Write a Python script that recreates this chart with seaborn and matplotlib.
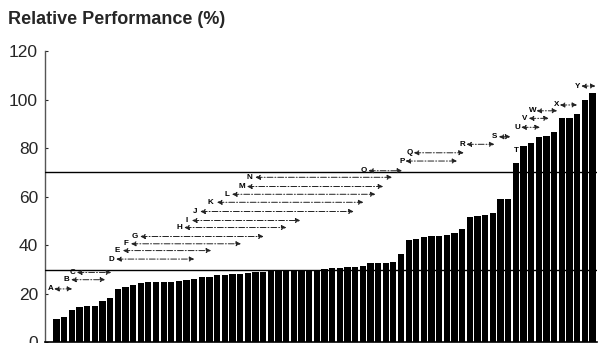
import matplotlib
matplotlib.use("Agg")
import matplotlib.pyplot as plt
import seaborn as sns
import numpy as np
import pandas as pd

# ---- data ----
values = [9.7, 10.4, 13.5, 14.7, 15.1, 15.1, 17.1, 18.1, 22.1, 22.6,
          23.8, 24.4, 24.7, 24.8, 24.8, 24.9, 25.3, 25.8, 26.2, 26.9,
          27.0, 27.7, 27.7, 28.1, 28.2, 28.5, 28.9, 28.9, 29.6, 29.8,
          30.0, 30.0, 30.0, 30.0, 30.0, 30.1, 30.6, 30.6, 31.0, 31.1,
          31.4, 32.6, 32.6, 32.6, 33.0, 36.5, 42.2, 42.5, 43.6, 43.7,
          43.7, 44.3, 45.0, 46.7, 51.8, 52.1, 52.5, 53.3, 59.0, 59.0,
          74.0, 80.8, 82.0, 84.5, 84.9, 86.7, 92.3, 92.6, 94.2, 99.7,
          102.6]
ref_lines = [30, 70]
yticks = [0, 20, 40, 60, 80, 100, 120]

letters = ["A", "B", "C", "D", "E", "F", "G", "H", "I", "J", "K", "L", "M",
           "N", "O", "P", "Q", "R", "S", "T", "U", "V", "W", "X", "Y"]
label_x = [-0.82, 1.23, 2.14, 7.11, 7.97, 9.11, 10.16, 16.08, 17.05, 18.13,
           20.09, 22.3, 24.24, 25.23, 40.13, 45.15, 46.14, 52.99, 57.2, 60.0,
           60.18, 61.18, 62.22, 65.28, 68.1]
label_y = [22.0, 25.8, 28.8, 34.3, 37.8, 40.6, 43.6, 47.3, 50.2, 53.9,
           57.7, 61.0, 64.2, 68.0, 70.7, 74.7, 78.1, 81.6, 84.7, 79.0,
           88.6, 92.3, 95.4, 97.8, 105.6]
arrow_start = [-0.3, 1.92, 2.67, 7.8, 8.68, 9.73, 10.94, 16.69, 17.7, 18.78,
               20.97, 22.93, 24.89, 25.97, 40.74, 45.58, 46.67, 53.55, 57.78, None,
               60.7, 61.7, 62.7, 65.75, 68.55]
arrow_end = [2.05, 6.37, 7.15, 18.0, 20.2, 24.1, 27.06, 30.03, 31.86, 38.82,
             40.09, 41.66, 42.67, 43.84, 45.15, 52.34, 53.2, 57.2, 59.3, None,
             63.14, 64.3, 65.4, 68.0, 70.4]

df = pd.DataFrame({"idx": np.arange(len(values)), "val": values})

sns.set_style("white")
plt.rcParams["font.family"] = ["Liberation Sans", "DejaVu Sans"]

fig = plt.figure(figsize=(6.0, 3.43), dpi=100)
ax = fig.add_axes([0.075, 0.002, 0.92, 0.849])

sns.barplot(data=df, x="idx", y="val", color="black", saturation=1,
            width=0.82, ax=ax, linewidth=0, edgecolor="none")

for v in ref_lines:
    ax.axhline(v, color="black", lw=1.0, zorder=3)

for i, L in enumerate(letters):
    ax.text(label_x[i], label_y[i], L, fontsize=5.8, fontweight="bold",
            ha="center", va="center", color="black", zorder=5)
    if arrow_start[i] is not None:
        ax.annotate("", xy=(arrow_end[i], label_y[i]), xytext=(arrow_start[i], label_y[i]),
                    arrowprops=dict(arrowstyle="<|-|>", color="#222222", lw=0.7,
                                    linestyle=(0, (6, 2, 1, 2)), mutation_scale=7,
                                    shrinkA=0, shrinkB=0), zorder=5)

ax.set_xlim(-1.5, 70.6)
ax.set_ylim(0, 120)
ax.set_yticks(yticks)
ax.set_yticklabels([str(t) for t in yticks], fontsize=12.5)
ax.tick_params(axis="y", direction="in", length=2, width=0.8, pad=5, left=True)
ax.tick_params(axis="x", bottom=False, labelbottom=False)
ax.set_xlabel("")
ax.set_ylabel("")
for s in ["top", "right"]:
    ax.spines[s].set_visible(False)
ax.spines["left"].set_color("#555555")
ax.spines["left"].set_linewidth(1.0)
ax.spines["bottom"].set_color("black")
ax.spines["bottom"].set_linewidth(1.2)

fig.text(0.013, 0.942, "Relative Performance (%)", fontsize=13, fontweight="bold",
         ha="left", va="center")

fig.savefig("out.png", dpi=100)
